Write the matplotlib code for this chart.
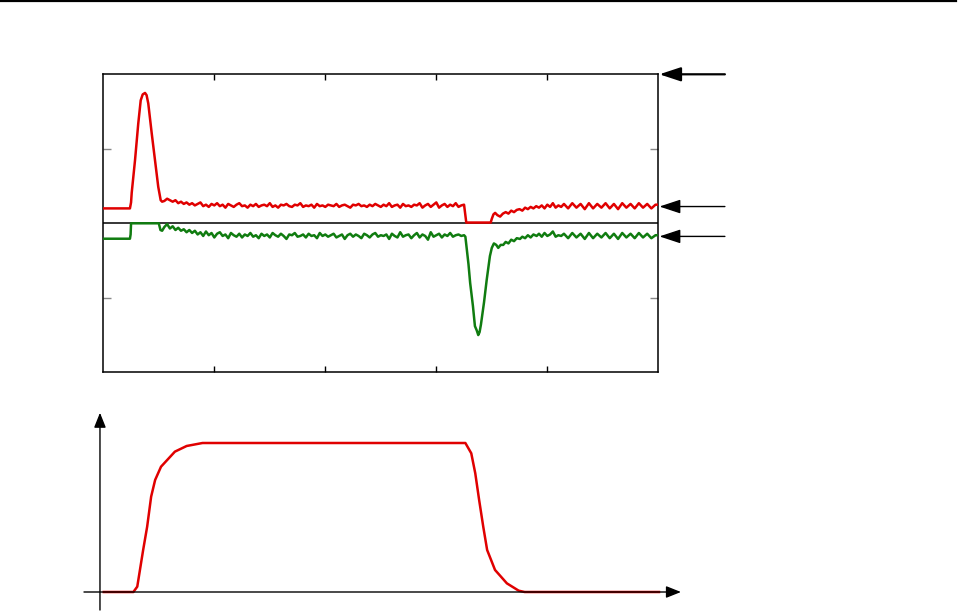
import numpy as np
import matplotlib
matplotlib.use("Agg")
import matplotlib.pyplot as plt
from matplotlib.lines import Line2D
from matplotlib.patches import ArrowStyle

# ---------------- data (top panel, x in 0..5, y in -2..2) ----------------
red_head_t = [0.0, 0.24, 0.25, 0.256, 0.286, 0.315, 0.337, 0.355, 0.376, 0.39,
              0.405, 0.436, 0.466, 0.495, 0.517, 0.53]
red_head_v = [0.2, 0.2, 0.28, 0.41, 0.85, 1.34, 1.65, 1.73, 1.75, 1.72,
              1.61, 1.21, 0.85, 0.49, 0.31, 0.29]

mid_start, mid_step = 0.55, 0.025
red_mid = [
    0.30, 0.33, 0.31, 0.29, 0.31, 0.27, 0.29, 0.26, 0.28, 0.25,
    0.27, 0.24, 0.26, 0.28, 0.23, 0.25, 0.22, 0.26, 0.24, 0.27,
    0.23, 0.25, 0.21, 0.26, 0.24, 0.22, 0.25, 0.27, 0.23, 0.24,
    0.21, 0.25, 0.23, 0.26, 0.22, 0.24, 0.25, 0.23, 0.27, 0.22,
    0.24, 0.21, 0.25, 0.24, 0.26, 0.23, 0.22, 0.25, 0.24, 0.27,
    0.22, 0.24, 0.23, 0.25, 0.21, 0.26, 0.23, 0.24, 0.22, 0.25,
    0.24, 0.23, 0.26, 0.22, 0.24, 0.25, 0.23, 0.21, 0.25, 0.24,
    0.26, 0.23, 0.24, 0.22, 0.25, 0.23, 0.26, 0.24, 0.22, 0.25,
    0.23, 0.27, 0.22, 0.24, 0.25, 0.21, 0.26, 0.23, 0.24, 0.22,
    0.25, 0.24, 0.27, 0.21, 0.24, 0.26, 0.22, 0.25, 0.28, 0.21,
    0.24, 0.26, 0.22, 0.25, 0.23, 0.27, 0.22, 0.24, 0.25]

red_dip_t = [3.262, 3.27, 3.49, 3.50, 3.515, 3.53, 3.55, 3.575, 3.60, 3.625,
             3.65, 3.675, 3.70, 3.725, 3.75, 3.775, 3.80, 3.825, 3.85, 3.875,
             3.90, 3.925, 3.95, 3.975, 4.0, 4.025, 4.05, 4.075, 4.10, 4.125]
red_dip_v = [0.10, 0.01, 0.01, 0.06, 0.12, 0.14, 0.11, 0.09, 0.13, 0.15,
             0.13, 0.17, 0.15, 0.18, 0.19, 0.17, 0.21, 0.19, 0.22, 0.20,
             0.23, 0.21, 0.24, 0.20, 0.25, 0.22, 0.27, 0.21, 0.24, 0.22]

tail_start, tail_step = 4.15, 0.0375
red_tail = [0.26, 0.20, 0.27, 0.21, 0.26, 0.19, 0.27, 0.20, 0.26, 0.21, 0.27, 0.20,
            0.26, 0.19, 0.27, 0.21, 0.26, 0.20, 0.27, 0.21, 0.26, 0.20, 0.25]

green_head_t = [0.0, 0.24, 0.246, 0.25, 0.50, 0.505, 0.515, 0.53]
green_head_v = [-0.207, -0.207, -0.15, 0.0, 0.0, -0.03, -0.09, -0.10]

green_mid = [
    -0.05, -0.01, -0.07, -0.04, -0.09, -0.06, -0.10, -0.08, -0.12, -0.09,
    -0.13, -0.10, -0.15, -0.12, -0.17, -0.11, -0.16, -0.13, -0.19, -0.14,
    -0.12, -0.17, -0.15, -0.20, -0.13, -0.16, -0.18, -0.14, -0.19, -0.15,
    -0.17, -0.13, -0.18, -0.16, -0.20, -0.14, -0.17, -0.15, -0.19, -0.13,
    -0.16, -0.18, -0.14, -0.17, -0.21, -0.15, -0.16, -0.13, -0.18, -0.17,
    -0.15, -0.19, -0.14, -0.17, -0.16, -0.20, -0.13, -0.17, -0.15, -0.18,
    -0.16, -0.14, -0.19, -0.17, -0.15, -0.21, -0.16, -0.14, -0.18, -0.15,
    -0.17, -0.20, -0.14, -0.16, -0.19, -0.15, -0.13, -0.18, -0.16, -0.17,
    -0.15, -0.21, -0.14, -0.17, -0.19, -0.12, -0.18, -0.16, -0.15, -0.20,
    -0.16, -0.13, -0.19, -0.15, -0.17, -0.22, -0.12, -0.18, -0.16, -0.14,
    -0.19, -0.15, -0.17, -0.13, -0.18, -0.16, -0.15, -0.17, -0.16]

green_dip_t = [3.262, 3.275, 3.29, 3.305, 3.33, 3.348, 3.365, 3.378, 3.39, 3.402,
               3.43, 3.454, 3.483, 3.50, 3.519, 3.54, 3.558, 3.58, 3.603, 3.625,
               3.65, 3.675, 3.70, 3.725, 3.754, 3.775, 3.80, 3.825, 3.85, 3.875,
               3.904, 3.925, 3.95, 3.975, 4.0, 4.025, 4.05, 4.075, 4.10, 4.125]
green_dip_v = [-0.18, -0.35, -0.55, -0.80, -1.11, -1.38, -1.44, -1.50, -1.46, -1.36,
               -1.06, -0.76, -0.44, -0.33, -0.27, -0.29, -0.33, -0.29, -0.29, -0.25,
               -0.27, -0.22, -0.24, -0.20, -0.21, -0.18, -0.20, -0.16, -0.19, -0.15,
               -0.17, -0.14, -0.18, -0.13, -0.17, -0.15, -0.11, -0.18, -0.16, -0.17]

green_tail = [-0.14, -0.20, -0.13, -0.19, -0.14, -0.21, -0.13, -0.20, -0.14, -0.19,
              -0.13, -0.20, -0.14, -0.21, -0.13, -0.19, -0.14, -0.20, -0.13, -0.19,
              -0.14, -0.20, -0.16]

arrow_levels = [2.0, 0.225, -0.176]

# ---------------- data (bottom panel) ----------------
bot_t = [0.004, 0.271, 0.306, 0.359, 0.395, 0.431, 0.467, 0.52, 0.645, 0.751, 0.894,
         3.262, 3.315, 3.351, 3.386, 3.423, 3.458, 3.529, 3.636, 3.742, 3.796, 5.006]
bot_v = [0.0, 0.0, 0.036, 0.282, 0.438, 0.64, 0.752, 0.841, 0.942, 0.98, 1.0,
         1.0, 0.931, 0.797, 0.617, 0.438, 0.282, 0.148, 0.058, 0.009, 0.0, 0.0]

RED = "#e00000"
GREEN = "#107c10"

def build(head_t, head_v, mid, dip_t, dip_v, tail):
    mid_t = mid_start + mid_step * np.arange(len(mid))
    tail_t = tail_start + tail_step * np.arange(len(tail))
    t = np.concatenate([head_t, mid_t, dip_t, tail_t, [5.0]])
    v = np.concatenate([head_v, mid, dip_v, tail, [tail[-1]]])
    return t, v

rt, rv = build(red_head_t, red_head_v, red_mid, red_dip_t, red_dip_v, red_tail)
gt, gv = build(green_head_t, green_head_v, green_mid, green_dip_t, green_dip_v, green_tail)

W, H = 964, 612
fig = plt.figure(figsize=(W / 100, H / 100), dpi=100)

# top rule line
fig.add_artist(Line2D([0, 956 / W], [1 - 1 / H, 1 - 1 / H], transform=fig.transFigure,
                      color="black", lw=1.6))

# ---------- top panel ----------
l, r, t_, b = 103.3, 658.3, 74.3, 372.3
ax = fig.add_axes([l / W, 1 - b / H, (r - l) / W, (b - t_) / H])
ax.set_xlim(0, 5)
ax.set_ylim(-2, 2)
ax.axhline(0, color="black", lw=1.1, zorder=1)
ax.plot(rt, rv, color=RED, lw=1.8, zorder=3)
ax.plot(gt, gv, color=GREEN, lw=1.8, zorder=3)
ax.set_xticks([1, 2, 3, 4])
ax.set_yticks([-1, 1])
ax.set_xticklabels([])
ax.set_yticklabels([])
ax.tick_params(axis="x", direction="in", length=4, width=1, top=True, bottom=True, color="black")
ax.tick_params(axis="y", direction="in", length=6, width=1, left=True, right=True, color="#888888")
for s in ax.spines.values():
    s.set_linewidth(1.1)

astyle = ArrowStyle("-|>", head_length=1.0, head_width=0.33)
for i, lev in enumerate(arrow_levels):
    ax.annotate("", xy=(5.01, lev), xytext=(5.6, lev), xycoords="data",
                arrowprops=dict(arrowstyle=astyle, mutation_scale=13, color="black",
                                lw=1.6 if i == 0 else 1.0, shrinkA=0, shrinkB=0),
                annotation_clip=False)

# ---------- bottom panel ----------
bl, br, bt, bb = 84, 690, 410, 610
ax2 = fig.add_axes([bl / W, 1 - bb / H, (br - bl) / W, (bb - bt) / H])
ax2.set_xlim((bl - 103.3) / 111, (br - 103.3) / 111)
ax2.set_ylim((592 - bb) / 149, (592 - bt) / 149)
ax2.axis("off")
ax2.plot(bot_t, bot_v, color=RED, lw=1.8, zorder=3)
astyle2 = ArrowStyle("-|>", head_length=1.0, head_width=0.4)
ax2.annotate("", xy=(5.204, 0), xytext=(-0.174, 0),
             arrowprops=dict(arrowstyle=astyle2, mutation_scale=9, color="black", lw=1.0,
                             shrinkA=0, shrinkB=0), annotation_clip=False)
ax2.annotate("", xy=(-0.03, 1.203), xytext=(-0.03, -0.121),
             arrowprops=dict(arrowstyle=astyle2, mutation_scale=9, color="black", lw=1.0,
                             shrinkA=0, shrinkB=0), annotation_clip=False)

fig.savefig("out.png", dpi=100)
